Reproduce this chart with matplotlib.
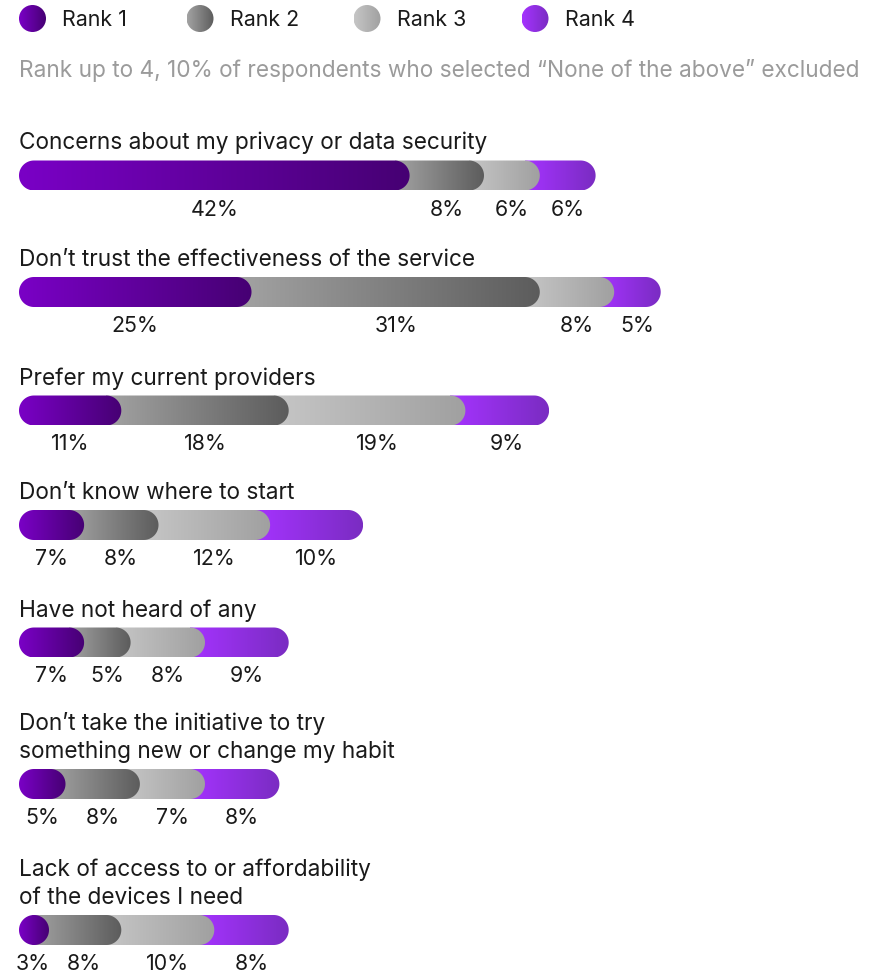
import numpy as np
import matplotlib
matplotlib.use("Agg")
import matplotlib.pyplot as plt
from matplotlib.colors import LinearSegmentedColormap
from matplotlib.patches import Polygon, Circle

plt.rcParams['font.family'] = ['Inter', 'DejaVu Sans']

# data
categories = [
    "Concerns about my privacy or data security",
    "Don\u2019t trust the effectiveness of the service",
    "Prefer my current providers",
    "Don\u2019t know where to start",
    "Have not heard of any",
    "Don\u2019t take the initiative to try\nsomething new or change my habit",
    "Lack of access to or affordability\nof the devices I need",
]
rank1 = [42, 25, 11, 7, 7, 5, 3]
rank2 = [8, 31, 18, 8, 5, 8, 8]
rank3 = [6, 8, 19, 12, 8, 7, 10]
rank4 = [6, 5, 9, 10, 9, 8, 8]
series_names = ["Rank 1", "Rank 2", "Rank 3", "Rank 4"]
subtitle = "Rank up to 4, 10% of respondents who selected \u201cNone of the above\u201d excluded"

# styles / layout
gradients = [
    ("#7a00c6", "#460073"),
    ("#a3a3a3", "#5c5c5c"),
    ("#c6c6c6", "#a0a0a0"),
    ("#a533ff", "#7a2cc2"),
]
W, H = 883, 974
LEFT_PX = 19          # where 0% sits
K = 9.3               # pixels per percent
R = 15                # bar half height (px)
row_y = [175.5, 292, 410.5, 525, 642.5, 784, 930]
FS = 16.3
FS_SMALL = 15.4
TXT = "#1a1a1a"

fig = plt.figure(figsize=(W / 100, H / 100), dpi=100)

# pixel layout axes for legend / subtitle
lay = fig.add_axes([0, 0, 1, 1])
lay.set_xlim(0, W)
lay.set_ylim(H, 0)
lay.axis("off")

# bar axes: x in percent, y in pixels
ax = fig.add_axes([0, 0, 1, 1])
ax.patch.set_alpha(0)
xlim = (-LEFT_PX / K, (W - LEFT_PX) / K)
ax.axis("off")


def grad_fill(axis, patch, x0, x1, y0, y1, colors, z):
    cmap = LinearSegmentedColormap.from_list("g", colors)
    g = np.linspace(0, 1, 256).reshape(1, -1)
    axis.add_patch(patch)
    im = axis.imshow(g, cmap=cmap, extent=(x0, x1, y1, y0), aspect="auto",
                     interpolation="bilinear", zorder=z)
    im.set_clip_path(patch)


def pill(x0, x1, yc):
    rx = R / K
    x1 = max(x1, x0 + 2 * rx)
    t = np.linspace(-np.pi / 2, np.pi / 2, 48)
    right = np.column_stack([x1 - rx + rx * np.cos(t), yc + R * np.sin(t)])
    left = np.column_stack([x0 + rx - rx * np.cos(t), yc - R * np.sin(t)])
    return np.vstack([right, left]), x1


# legend
leg_x = [32.5, 200, 367, 535]
for i, name in enumerate(series_names):
    c = Circle((leg_x[i], 18.5), 13.5, facecolor="none", edgecolor="none")
    grad_fill(lay, c, leg_x[i] - 13.5, leg_x[i] + 13.5, 5, 32, gradients[i], 2)
    lay.text(leg_x[i] + 30, 26, name, fontsize=FS_SMALL, color=TXT, va="baseline")

lay.text(19, 77, subtitle, fontsize=FS, color="#9b9b9b", va="baseline")

# bars
rx = R / K
for j, cat in enumerate(categories):
    yc = row_y[j]
    vals = [rank1[j], rank2[j], rank3[j], rank4[j]]
    ends = np.cumsum(vals)
    starts = ends - np.array(vals)
    for k in range(3, -1, -1):
        if k == 0:
            x0 = 0
            gx0 = 0
        else:
            x0 = max(0, starts[k] - 2 * rx)
            gx0 = max(0, starts[k] - rx)
        verts, x1 = pill(x0, ends[k], yc)
        poly = Polygon(verts, closed=True, facecolor="none", edgecolor="none")
        grad_fill(ax, poly, gx0, x1, yc - R, yc + R, gradients[k], 10 - k)
        ax.text((starts[k] + ends[k]) / 2, yc + R + 25, f"{vals[k]}%",
                fontsize=FS_SMALL, color=TXT, ha="center", va="baseline")

    lines = cat.split("\n")
    for n, line in enumerate(reversed(lines)):
        ax.text(0, yc - R - 11 - 28 * n, line, fontsize=FS, color=TXT,
                va="baseline")

ax.set_xlim(*xlim)
ax.set_ylim(H, 0)

fig.savefig("out.png", dpi=100)
